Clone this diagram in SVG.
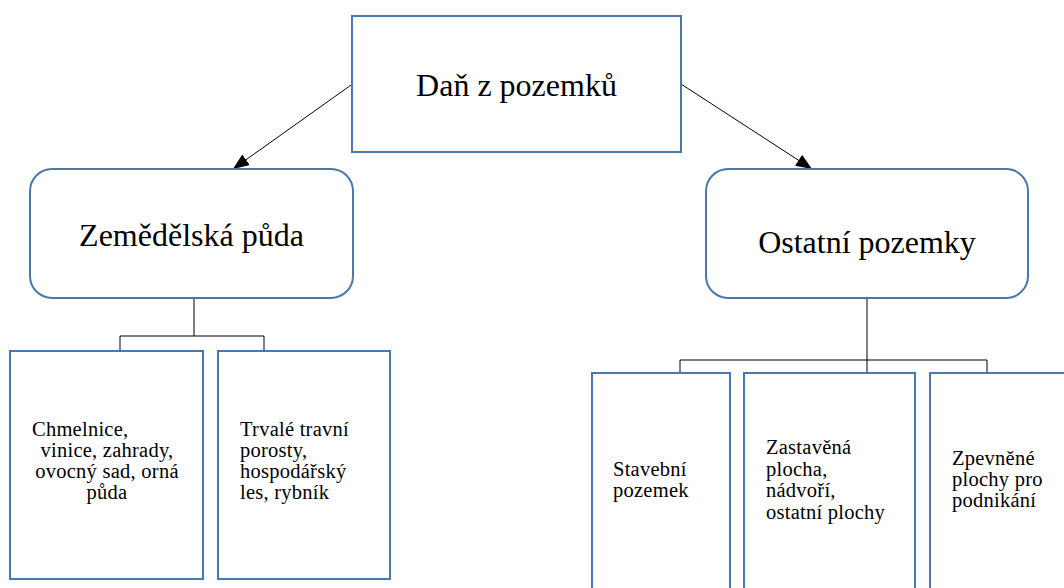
<svg xmlns="http://www.w3.org/2000/svg" width="1064" height="588" viewBox="0 0 1064 588">
  <style>
    .box { fill: #ffffff; stroke: #4a78aa; stroke-width: 2; }
    .con { fill: none; stroke: #000000; stroke-width: 1; }
    .big { font-family: "Liberation Serif", "Times New Roman", serif; font-size: 32px; fill: #000000; text-anchor: middle; }
    .small { font-family: "Liberation Serif", "Times New Roman", serif; font-size: 20.5px; letter-spacing: 0.25px; fill: #000000; }
    .mid { text-anchor: middle; }
  </style>
  <defs>
    <marker id="arrow" viewBox="0 0 16 13" refX="16" refY="6.5" markerWidth="16" markerHeight="13" markerUnits="userSpaceOnUse" orient="auto">
      <path d="M0,0 L16,6.5 L0,13 Z" fill="#000000"/>
    </marker>
  </defs>
  <rect width="1064" height="588" fill="#ffffff"/>

  <g id="connectors">
    <line class="con" x1="352.5" y1="84" x2="233" y2="169" marker-end="url(#arrow)"/>
    <line class="con" x1="681" y1="84" x2="812" y2="169" marker-end="url(#arrow)"/>
    <path class="con" d="M194,298 V336 M120,336 H264 M120,336 V351 M264,336 V351"/>
    <path class="con" d="M867,298 V373 M680,360 H987 M680,360 V373 M987,360 V373"/>
  </g>

  <g id="node-root">
    <rect class="box" x="352" y="16" width="329" height="136"/>
    <text class="big" x="516.5" y="96">Daň z pozemků</text>
  </g>

  <g id="node-zemedelska">
    <rect class="box" x="30" y="169" width="323" height="129" rx="22" ry="22"/>
    <text class="big" x="191.5" y="246">Zemědělská půda</text>
  </g>

  <g id="node-ostatni">
    <rect class="box" x="706" y="169" width="322" height="129" rx="22" ry="22"/>
    <text class="big" x="867" y="253">Ostatní pozemky</text>
  </g>

  <g id="node-chmelnice">
    <rect class="box" x="10" y="351" width="193" height="228"/>
    <text class="small" x="32" y="436">Chmelnice,</text>
    <text class="small mid" x="107" y="457">vinice, zahrady,</text>
    <text class="small mid" x="107" y="478">ovocný sad, orná</text>
    <text class="small mid" x="107" y="499">půda</text>
  </g>

  <g id="node-trvale">
    <rect class="box" x="218" y="351" width="172" height="228"/>
    <text class="small" x="240" y="436">Trvalé travní</text>
    <text class="small" x="240" y="457">porosty,</text>
    <text class="small" x="240" y="478">hospodářský</text>
    <text class="small" x="240" y="499">les, rybník</text>
  </g>

  <g id="node-stavebni">
    <rect class="box" x="592" y="373" width="138" height="240"/>
    <text class="small" x="613" y="476">Stavební</text>
    <text class="small" x="613" y="497">pozemek</text>
  </g>

  <g id="node-zastavena">
    <rect class="box" x="744" y="373" width="171" height="240"/>
    <text class="small" x="766" y="454">Zastavěná</text>
    <text class="small" x="766" y="476">plocha,</text>
    <text class="small" x="766" y="497">nádvoří,</text>
    <text class="small" x="766" y="519">ostatní plochy</text>
  </g>

  <g id="node-zpevnene">
    <rect class="box" x="930" y="373" width="160" height="240"/>
    <text class="small" x="952" y="465">Zpevněné</text>
    <text class="small" x="952" y="486">plochy pro</text>
    <text class="small" x="952" y="507">podnikání</text>
  </g>
</svg>
